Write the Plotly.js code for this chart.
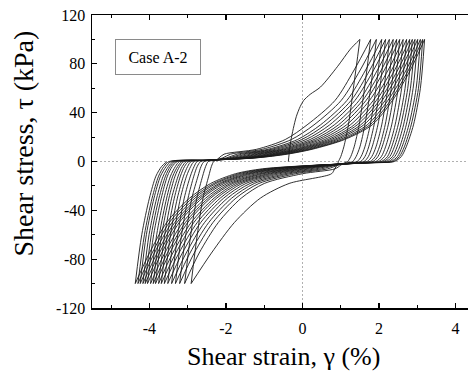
<!DOCTYPE html>
<html><head><meta charset="utf-8">
<script src="https://cdn.plot.ly/plotly-3.0.1.min.js"></script>
<style>html,body{margin:0;padding:0;overflow:hidden;background:#fff}#chart{width:540px;height:378px}</style>
</head><body><div id="chart"></div>
<script>
// Initial (first) loading branch
const initStrain = [-0.37, -0.35, -0.31, -0.24, -0.16, -0.06, 0.03, 0.20, 0.47, 0.92, 1.25, 1.50];
const initStress = [0, 6, 16, 27, 37, 45, 50, 55, 61, 78, 92, 100];

// Unloading from positive peaks (cycles 1..18)
const tauUnloadPos = [100, 60, 30, 12, 4, 0];
const gammaUnloadPos = [
  [1.50,1.33,1.20,1.08,1.00,0.94],
  [1.78,1.62,1.48,1.35,1.26,1.18],
  [1.93,1.78,1.63,1.50,1.40,1.31],
  [2.07,1.92,1.77,1.63,1.53,1.43],
  [2.17,2.02,1.87,1.73,1.63,1.52],
  [2.27,2.13,1.97,1.82,1.72,1.61],
  [2.37,2.23,2.07,1.92,1.81,1.69],
  [2.46,2.32,2.16,2.01,1.90,1.77],
  [2.54,2.41,2.24,2.08,1.97,1.84],
  [2.63,2.50,2.33,2.17,2.06,1.92],
  [2.72,2.59,2.42,2.26,2.14,1.99],
  [2.80,2.68,2.50,2.33,2.22,2.06],
  [2.87,2.75,2.57,2.40,2.28,2.12],
  [2.94,2.82,2.64,2.47,2.35,2.18],
  [3.01,2.89,2.71,2.54,2.41,2.25],
  [3.08,2.97,2.78,2.60,2.48,2.31],
  [3.14,3.03,2.84,2.66,2.53,2.36],
  [3.19,3.08,2.90,2.71,2.58,2.40]
];

// Loading into negative stress (cycles 1..18)
const tauLoadNeg = [-1, -3, -6, -10, -18, -30, -50, -75, -100];
const gammaLoadNeg = [
  [0.93,0.90,0.84,0.76,-0.35,-1.10,-1.78,-2.38,-2.91],
  [1.10,1.00,0.85,0.00,-1.00,-1.60,-2.20,-2.70,-3.08],
  [1.18,0.93,0.66,-0.18,-1.14,-1.74,-2.34,-2.83,-3.21],
  [1.24,0.88,0.50,-0.33,-1.26,-1.85,-2.45,-2.94,-3.32],
  [1.30,0.83,0.35,-0.46,-1.37,-1.96,-2.56,-3.04,-3.42],
  [1.36,0.78,0.20,-0.60,-1.48,-2.06,-2.66,-3.14,-3.52],
  [1.41,0.73,0.07,-0.72,-1.58,-2.15,-2.75,-3.23,-3.61],
  [1.45,0.69,-0.05,-0.83,-1.66,-2.24,-2.84,-3.31,-3.69],
  [1.50,0.66,-0.15,-0.92,-1.74,-2.31,-2.91,-3.39,-3.76],
  [1.54,0.62,-0.27,-1.03,-1.82,-2.40,-3.00,-3.47,-3.84],
  [1.58,0.59,-0.36,-1.11,-1.89,-2.46,-3.06,-3.53,-3.90],
  [1.62,0.55,-0.46,-1.21,-1.97,-2.53,-3.13,-3.60,-3.97],
  [1.66,0.51,-0.58,-1.32,-2.05,-2.62,-3.22,-3.68,-4.05],
  [1.70,0.48,-0.67,-1.40,-2.12,-2.68,-3.28,-3.74,-4.11],
  [1.74,0.45,-0.76,-1.48,-2.18,-2.74,-3.34,-3.80,-4.17],
  [1.78,0.42,-0.86,-1.57,-2.26,-2.81,-3.41,-3.87,-4.24],
  [1.82,0.39,-0.95,-1.66,-2.32,-2.88,-3.48,-3.93,-4.30],
  [1.85,0.35,-1.05,-1.75,-2.40,-2.95,-3.55,-4.00,-4.37]
];

// Unloading from negative troughs (cycles 1..18)
const tauUnloadNeg = [-100, -60, -30, -12, -4, 0];
const gammaUnloadNeg = [
  [-2.91,-2.75,-2.60,-2.45,-2.38,-2.32],
  [-3.08,-2.92,-2.76,-2.61,-2.53,-2.46],
  [-3.21,-3.05,-2.89,-2.73,-2.65,-2.57],
  [-3.32,-3.16,-2.99,-2.84,-2.75,-2.66],
  [-3.42,-3.26,-3.09,-2.93,-2.83,-2.75],
  [-3.52,-3.36,-3.19,-3.03,-2.92,-2.83],
  [-3.61,-3.45,-3.27,-3.11,-3.00,-2.91],
  [-3.69,-3.53,-3.35,-3.19,-3.08,-2.97],
  [-3.76,-3.60,-3.42,-3.25,-3.14,-3.03],
  [-3.84,-3.68,-3.49,-3.33,-3.21,-3.10],
  [-3.90,-3.74,-3.55,-3.39,-3.26,-3.15],
  [-3.97,-3.81,-3.62,-3.45,-3.32,-3.21],
  [-4.05,-3.89,-3.69,-3.53,-3.40,-3.27],
  [-4.11,-3.95,-3.75,-3.58,-3.45,-3.32],
  [-4.17,-4.01,-3.81,-3.64,-3.50,-3.37],
  [-4.24,-4.08,-3.88,-3.71,-3.56,-3.43],
  [-4.30,-4.13,-3.93,-3.76,-3.62,-3.48],
  [-4.37,-4.20,-4.00,-3.83,-3.68,-3.54]
];

// Reloading into positive stress (cycles 2..18)
const tauLoadPos = [1, 3, 6, 10, 18, 30, 50, 75, 100];
const gammaLoadPos = [
  [-2.26,-2.18,-2.05,-1.20,-0.45,0.12,0.85,1.35,1.78],
  [-2.30,-2.08,-1.88,-1.05,-0.29,0.30,1.01,1.51,1.93],
  [-2.35,-1.98,-1.71,-0.90,-0.13,0.47,1.16,1.65,2.07],
  [-2.38,-1.91,-1.59,-0.80,-0.02,0.59,1.27,1.76,2.17],
  [-2.40,-1.84,-1.48,-0.70,0.09,0.71,1.37,1.86,2.27],
  [-2.42,-1.77,-1.36,-0.59,0.20,0.83,1.48,1.96,2.37],
  [-2.44,-1.71,-1.25,-0.50,0.30,0.94,1.57,2.06,2.46],
  [-2.45,-1.65,-1.16,-0.42,0.39,1.04,1.66,2.14,2.54],
  [-2.46,-1.59,-1.06,-0.33,0.48,1.15,1.75,2.24,2.63],
  [-2.47,-1.53,-0.95,-0.23,0.58,1.25,1.85,2.33,2.72],
  [-2.48,-1.47,-0.86,-0.15,0.67,1.35,1.93,2.41,2.80],
  [-2.49,-1.42,-0.77,-0.08,0.75,1.43,2.01,2.49,2.87],
  [-2.50,-1.37,-0.69,-0.01,0.83,1.52,2.08,2.56,2.94],
  [-2.50,-1.33,-0.61,0.06,0.90,1.60,2.16,2.63,3.01],
  [-2.50,-1.28,-0.53,0.14,0.98,1.69,2.23,2.71,3.08],
  [-2.50,-1.23,-0.46,0.20,1.05,1.76,2.30,2.77,3.14],
  [-2.50,-1.20,-0.40,0.25,1.10,1.82,2.35,2.82,3.19]
];

const xTickVals = [-4, -2, 0, 2, 4];
const xTickText = ['-4', '-2', '0', '2', '4'];
const xMinorVals = [-5, -3, -1, 1, 3, 5];
const yTickVals = [-120, -80, -40, 0, 40, 80, 120];
const yTickText = ['-120', '-80', '-40', '0', '40', '80', '120'];
const yMinorVals = [-100, -60, -20, 20, 60, 100];

const lineStyle = {color: '#1a1a1a', width: 0.9, shape: 'spline', smoothing: 0.8};
const traces = [];
traces.push({x: initStrain, y: initStress, mode: 'lines', line: lineStyle, hoverinfo: 'skip'});
for (let k = 0; k < gammaUnloadPos.length; k++) {
  traces.push({
    x: gammaUnloadPos[k].concat(gammaLoadNeg[k]),
    y: tauUnloadPos.concat(tauLoadNeg),
    mode: 'lines', line: lineStyle, hoverinfo: 'skip'
  });
  const hasNext = k < gammaLoadPos.length;
  traces.push({
    x: gammaUnloadNeg[k].concat(hasNext ? gammaLoadPos[k] : []),
    y: tauUnloadNeg.concat(hasNext ? tauLoadPos : []),
    mode: 'lines', line: lineStyle, hoverinfo: 'skip'
  });
}

const serif = "'Liberation Serif', 'Times New Roman', Times, serif";
function axisBase() {
  return {
    showline: true, linecolor: '#000', linewidth: 1.5, mirror: 'allticks',
    ticks: 'inside', ticklen: 5, tickwidth: 1.2, tickcolor: '#000',
    showgrid: false, zeroline: false,
    tickfont: {family: serif, size: 16, color: '#000'},
    tickmode: 'array'
  };
}

const layout = {
  width: 540, height: 378,
  margin: {l: 92, r: 27, t: 15, b: 70},
  paper_bgcolor: '#fff', plot_bgcolor: '#fff',
  showlegend: false,
  font: {family: serif, color: '#000'},
  xaxis: Object.assign(axisBase(), {
    range: [-5.5, 5.5], tickvals: xTickVals, ticktext: xTickText, ticklabelstandoff: 5,
    minor: {tickvals: xMinorVals, ticks: 'inside', ticklen: 3, tickwidth: 1, tickcolor: '#000'}
  }),
  yaxis: Object.assign(axisBase(), {
    range: [-120, 120], tickvals: yTickVals, ticktext: yTickText, ticklabelstandoff: 2,
    minor: {tickvals: yMinorVals, ticks: 'inside', ticklen: 3, tickwidth: 1, tickcolor: '#000'}
  }),
  shapes: [
    {type: 'line', xref: 'x', yref: 'paper', x0: 0, x1: 0, y0: 0, y1: 1, layer: 'below',
     line: {color: '#b0b0b0', width: 1, dash: '2px,2px'}},
    {type: 'line', xref: 'paper', yref: 'y', x0: 0, x1: 1, y0: 0, y1: 0, layer: 'below',
     line: {color: '#b0b0b0', width: 1, dash: '2px,2px'}}
  ],
  annotations: [
    {text: 'Shear strain, γ (%)', xref: 'paper', yref: 'paper', x: 0.4537, y: -0.164,
     xanchor: 'center', yanchor: 'middle', showarrow: false,
     font: {family: serif, size: 26, color: '#000'}},
    {text: 'Shear stress, τ (kPa)', xref: 'paper', yref: 'paper', x: -0.1615, y: 0.5614,
     xanchor: 'center', yanchor: 'middle', showarrow: false, textangle: -90,
     font: {family: serif, size: 28, color: '#000'}},
    {text: 'Case A-2', xref: 'paper', yref: 'paper', x: 0.157, y: 0.856,
     xanchor: 'center', yanchor: 'middle', showarrow: false,
     width: 84, height: 34, borderpad: 0, bordercolor: '#8a8a8a', borderwidth: 1,
     bgcolor: '#fff', font: {family: serif, size: 16, color: '#000'}}
  ]
};

Plotly.newPlot('chart', traces, layout, {staticPlot: true, displayModeBar: false});
</script>
</body></html>
